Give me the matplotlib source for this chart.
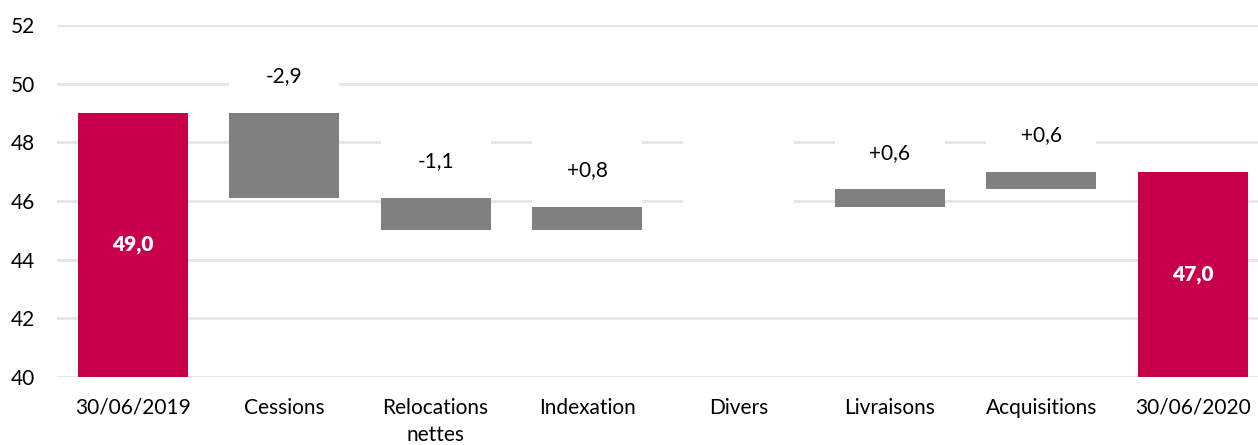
import numpy as np
import matplotlib.pyplot as plt

plt.rcParams['font.family'] = ['Lato', 'DejaVu Sans']

categories = ['30/06/2019', 'Cessions', 'Relocations\nnettes', 'Indexation',
              'Divers', 'Livraisons', 'Acquisitions', '30/06/2020']
start_value = 49.0
end_value = 47.0
changes = [-2.9, -1.1, 0.8, 0.0, 0.6, 0.6]

red = '#C8004B'
grey = '#808080'
grid_col = '#E4E4EA'

fig = plt.figure(figsize=(12.58, 4.45), dpi=100)
ax = fig.add_axes([57 / 1258, 68 / 445, 1201 / 1258, 352 / 445])

x = np.arange(len(categories))
w = 0.727

# totals
ax.bar(x[0], start_value, width=w, color=red, zorder=3)
ax.bar(x[-1], end_value, width=w, color=red, zorder=3)
for xi, v in [(x[0], start_value), (x[-1], end_value)]:
    ax.text(xi, (40 + v) / 2, f'{v:.1f}'.replace('.', ','),
            ha='center', va='center', color='white', fontsize=15,
            fontweight='heavy', zorder=5)

# floating steps, with a white label block above each one
level = start_value
for i, d in enumerate(changes, start=1):
    lo, hi = sorted([level, level + d])
    ax.bar(x[i], hi - lo, bottom=lo, width=w, color=grey, zorder=3)
    ax.bar(x[i], 2.5, bottom=hi, width=w, color='white', zorder=3)
    if d != 0:
        txt = f'{d:+.1f}'.replace('.', ',')
        ax.text(x[i], hi + 1.25, txt, ha='center', va='center',
                fontsize=15, color='#000000', zorder=5)
    level += d

ax.set_xlim(-0.5, 7.43)
ax.set_ylim(40, 52)
ax.set_yticks(np.arange(40, 53, 2))
ax.set_xticks(x)
ax.set_xticklabels(categories, fontsize=15, linespacing=1.45)
ax.tick_params(axis='x', length=0, pad=15)
ax.tick_params(axis='y', length=0, pad=16, labelsize=15)
ax.yaxis.grid(True, color=grid_col, linewidth=2, zorder=0)
ax.set_axisbelow(True)
for s in ax.spines.values():
    s.set_visible(False)

fig.savefig('out.png', dpi=100, facecolor='white')
